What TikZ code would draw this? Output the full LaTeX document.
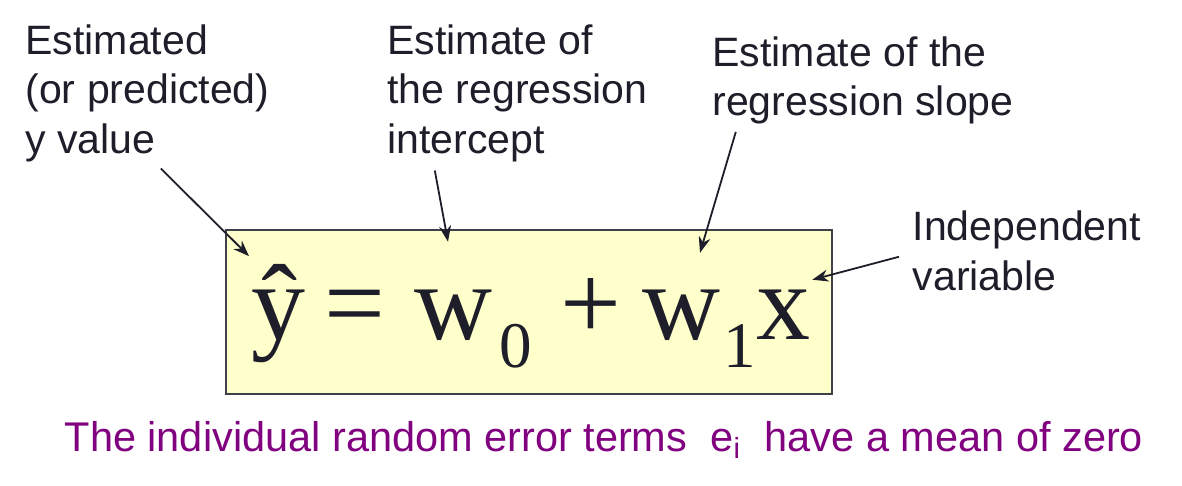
\documentclass[tikz,border=0pt]{standalone}
\usepackage{fontspec}
\setmainfont{Liberation Sans}
\newfontfamily\eqfont{Liberation Serif}
\usepackage{tikz}
\usepackage{xcolor}
\usetikzlibrary{arrows.meta, calc}

\definecolor{inkdark}{RGB}{30,30,42}
\definecolor{boxfill}{RGB}{255,255,204}
\definecolor{errpurple}{RGB}{128,0,128}

% lowered subscript as in the slide equation
\newcommand{\lowsub}[2]{\hspace{#1}\raisebox{-0.27cm}{\fontsize{18.5pt}{18.5pt}\selectfont #2}}

\begin{document}
\begin{tikzpicture}[
  x=0.01cm, y=-0.01cm,
  >={Stealth[length=0.16cm, width=0.12cm]},
  every node/.style={inner sep=0pt, text=inkdark},
  lbl/.style={anchor=base west, align=left, font=\fontsize{11.67pt}{14.08pt}\selectfont},
  term/.style={anchor=base west, font=\eqfont\fontsize{30.7pt}{30.7pt}\selectfont},
  ptr/.style={->, draw=inkdark, line width=0.018cm},
  eqbox/.style={draw=inkdark!85, line width=0.025cm, fill=boxfill, minimum width=6.06cm, minimum height=1.64cm}
]
\useasboundingbox (0,0) rectangle (1182,486);

% Equation box and its terms
\node[eqbox] (eqframe) at (529,312) {};
\node[term] (yhat) at (251,340) {ŷ};
\node[term] (eqsign) at (324,340) {=};
\node[term] (wzero) at (414,340) {w\lowsub{0.064cm}{0}};
\node[term] (plus) at (560,340) {+};
\node[term] (wone) at (642,340) {w\lowsub{0.028cm}{1}};
\node[term] (xvar) at (756,340) {x};

% Labels (anchored at the baseline of their last line)
\node[lbl] (lblpred) at (24.8,153.3) {Estimated\\(or predicted)\\y value};
\node[lbl] (lblicpt) at (386.8,153.3) {Estimate of\\the regression\\intercept};
\node[lbl] (lblslope) at (711.8,115.7) {Estimate of the\\regression slope};
\node[lbl] (lblindep) at (912,290.2) {Independent\\variable};

% Pointers
\draw[ptr] ($(lblpred.south west)+(136,6)$) -- ($(yhat.north west)+(-2,-8)$);
\draw[ptr] ($(lblicpt.south west)+(48,8)$) -- ($(wzero.north west)+(34,-48)$);
\draw[ptr] ($(lblslope.south west)+(24,7)$) -- ($(wone.north west)+(58,-37)$);
\draw[ptr] ($(lblindep.west)+(-13,6)$) -- ($(xvar.north east)+(1,-10)$);

% Note below
\node[anchor=base west, text=errpurple, font=\fontsize{11.8pt}{14pt}\selectfont] (errnote) at (64,451.7) {The individual random error terms~~e\textsubscript{i}~~have a mean of zero};

\end{tikzpicture}
\end{document}
